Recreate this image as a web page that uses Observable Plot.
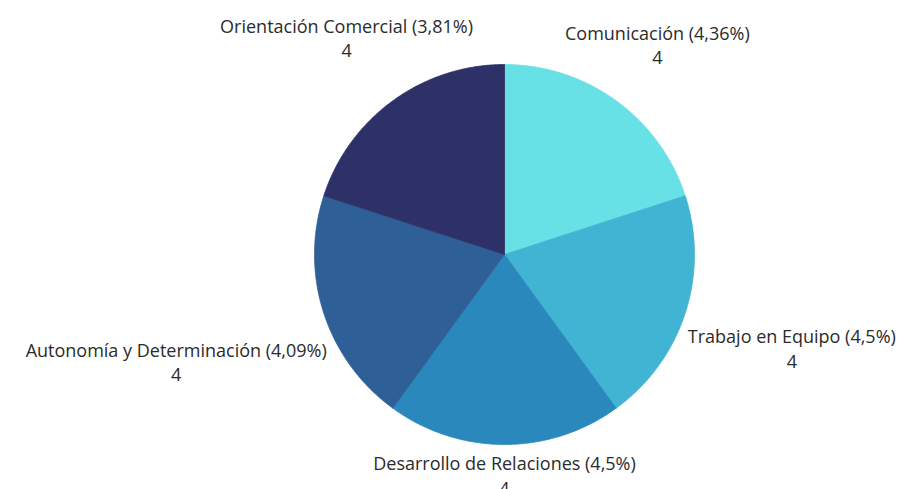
<!DOCTYPE html>
<html>
<head>
<meta charset="utf-8">
<script src="https://cdn.jsdelivr.net/npm/d3@7"></script>
<script src="https://cdn.jsdelivr.net/npm/@observablehq/plot@0.6"></script>
<style>
  html, body { margin: 0; padding: 0; background: #ffffff; }
  #chart { width: 905px; height: 489px; }
</style>
</head>
<body>
<div id="chart"></div>
<script>
// ---- data ----
const categories = ["Comunicación", "Trabajo en Equipo", "Desarrollo de Relaciones", "Autonomía y Determinación", "Orientación Comercial"];
const values = [4, 4, 4, 4, 4];
const percents = [4.36, 4.5, 4.5, 4.09, 3.81];
const colors = ["#68E1E6", "#41B4D3", "#2A88BC", "#2E5F97", "#2D3168"];

// ---- layout ----
const W = 905, H = 489;
const cx = 504, cy = 254, R = 190;
const fontSize = 18, fontFamily = "'Open Sans', sans-serif";
const lineGap = 24.5;

const fmtPct = v => String(v).replace(".", ",") + "%";

const arcs = d3.pie().sort(null).value(d => d.value)(
  categories.map((name, i) => ({ name, value: values[i], pct: percents[i] }))
);

// polygons in unit coordinates (y up)
const poly = [];
arcs.forEach(a => {
  const n = 120;
  poly.push({ name: a.data.name, x: 0, y: 0 });
  for (let k = 0; k <= n; k++) {
    const t = a.startAngle + (a.endAngle - a.startAngle) * k / n;
    poly.push({ name: a.data.name, x: Math.sin(t), y: Math.cos(t) });
  }
  poly.push({ name: a.data.name, x: 0, y: 0 });
});

// label positions: box centred on mid-angle ray, nearest point of box at distance D
const ctx = document.createElement("canvas").getContext("2d");
ctx.font = `${fontSize}px ${fontFamily}`;
const D = (R + 6) / R;
const labels = arcs.map(a => {
  const text = `${a.data.name} (${fmtPct(a.data.pct)})\n${a.data.value}`;
  const w = Math.max(...text.split("\n").map(s => ctx.measureText(s).width)) / 2 / R;
  const h = 24 / R;
  const m = (a.startAngle + a.endAngle) / 2;
  const sx = Math.sin(m), sy = Math.cos(m);
  const dist = t => Math.hypot(Math.max(0, Math.abs(sx * t) - w), Math.max(0, Math.abs(sy * t) - h));
  let lo = 0, hi = 5;
  for (let i = 0; i < 60; i++) { const mid = (lo + hi) / 2; if (dist(mid) < D) lo = mid; else hi = mid; }
  return { text, x: sx * lo, y: sy * lo };
});

const chart = Plot.plot({
  width: W,
  height: H,
  margin: 0,
  style: { background: "#ffffff", fontFamily },
  x: { domain: [-cx / R, (W - cx) / R], axis: null },
  y: { domain: [-(H - cy) / R, cy / R], axis: null },
  color: { domain: categories, range: colors },
  marks: [
    Plot.line(poly, { x: "x", y: "y", z: "name", fill: "name", stroke: "name", strokeWidth: 0.8, curve: "linear" }),
    Plot.text(labels, {
      x: "x", y: "y", text: "text",
      fontSize, fill: "#2b2b2b",
      textAnchor: "middle", lineAnchor: "middle",
      lineHeight: lineGap / fontSize
    })
  ]
});
document.getElementById("chart").appendChild(chart);
</script>
</body>
</html>
